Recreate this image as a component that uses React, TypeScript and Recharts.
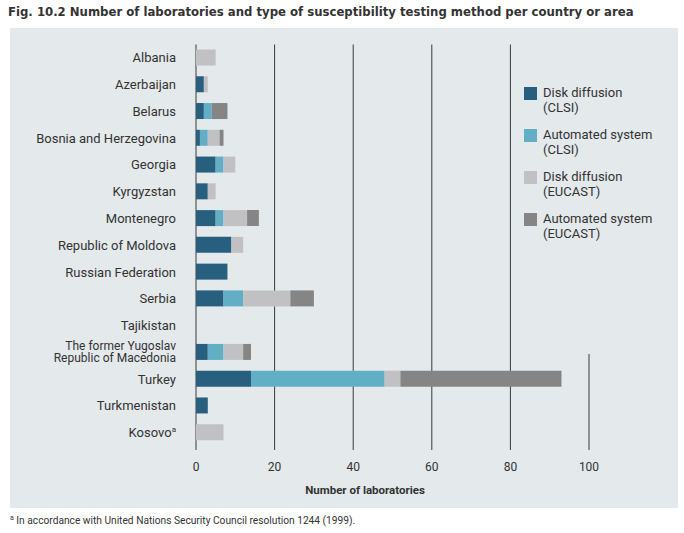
import React from "react";
import { BarChart, Bar, XAxis, YAxis, CartesianGrid } from "recharts";

const categories = [
  "Albania",
  "Azerbaijan",
  "Belarus",
  "Bosnia and Herzegovina",
  "Georgia",
  "Kyrgyzstan",
  "Montenegro",
  "Republic of Moldova",
  "Russian Federation",
  "Serbia",
  "Tajikistan",
  "The former Yugoslav|Republic of Macedonia",
  "Turkey",
  "Turkmenistan",
  "Kosovo^a",
];

const diskCLSI = [0, 2, 2, 1, 5, 3, 5, 9, 8, 7, 0, 3, 14, 3, 0];
const autoCLSI = [0, 0, 2, 2, 2, 0, 2, 0, 0, 5, 0, 4, 34, 0, 0];
const diskEUCAST = [5, 1, 0, 3, 3, 2, 6, 3, 0, 12, 0, 5, 4, 0, 7];
const autoEUCAST = [0, 0, 4, 1, 0, 0, 3, 0, 0, 6, 0, 2, 41, 0, 0];

const xTicks = [0, 20, 40, 60, 80, 100];

const seriesNames = [
  ["Disk diffusion", "(CLSI)"],
  ["Automated system", "(CLSI)"],
  ["Disk diffusion", "(EUCAST)"],
  ["Automated system", "(EUCAST)"],
];
const seriesKeys = ["diskCLSI", "autoCLSI", "diskEUCAST", "autoEUCAST"];
const colors = ["#285e7e", "#62afc5", "#c1c1c3", "#858585"];

const BG = "#e4e9ec";
const TEXT = "#333333";
const FONT = "Roboto, 'Noto Sans', sans-serif";

const data = categories.map((name, i) => ({
  name,
  diskCLSI: diskCLSI[i],
  autoCLSI: autoCLSI[i],
  diskEUCAST: diskEUCAST[i],
  autoEUCAST: autoEUCAST[i],
}));

const CountryTick = (props: any) => {
  const { x, y, payload } = props;
  const v: string = payload.value;
  if (v.includes("|")) {
    const [a, b] = v.split("|");
    return (
      <g>
        <text x={x} y={y} dy={-2.5} textAnchor="end" fill={TEXT} fontSize={12} fontFamily={FONT}>
          {a}
        </text>
        <text x={x} y={y} dy={10} textAnchor="end" fill={TEXT} fontSize={12} fontFamily={FONT}>
          {b}
        </text>
      </g>
    );
  }
  if (v.includes("^")) {
    const [a, b] = v.split("^");
    return (
      <text x={x} y={y} dy={4.5} textAnchor="end" fill={TEXT} fontSize={13} fontFamily={FONT}>
        {a}
        <tspan fontSize={8} dy={-5}>{b}</tspan>
      </text>
    );
  }
  return (
    <text x={x} y={y} dy={4.5} textAnchor="end" fill={TEXT} fontSize={13} fontFamily={FONT}>
      {v}
    </text>
  );
};

export default function App() {
  return (
    <div
      style={{
        position: "absolute",
        left: 0,
        top: 0,
        width: 684,
        height: 533,
        background: "#ffffff",
        fontFamily: FONT,
        overflow: "hidden",
      }}
    >
      <div
        style={{
          position: "absolute",
          left: 8,
          top: 4,
          fontFamily: "'DejaVu Sans Condensed', 'Liberation Sans Narrow', sans-serif",
          fontWeight: 700,
          fontSize: 13,
          color: TEXT,
          whiteSpace: "nowrap",
        }}
      >
        Fig. 10.2 Number of laboratories and type of susceptibility testing method per country or area
      </div>
      <div
        style={{
          position: "absolute",
          left: 10,
          top: 28,
          width: 668,
          height: 480,
          background: BG,
        }}
      />
      <div style={{ position: "absolute", left: 0, top: 0 }}>
        <BarChart
          width={684}
          height={533}
          data={data}
          layout="vertical"
          margin={{ top: 44.5, right: 95, bottom: 53, left: 0 }}
          barSize={16}
        >
          <CartesianGrid
            horizontal={false}
            vertical={true}
            stroke="#3a3a3a"
            strokeWidth={1}
          />
          <XAxis
            type="number"
            domain={[0, 100]}
            ticks={xTicks}
            axisLine={false}
            tickLine={false}
            tickMargin={6}
            height={30}
            tick={{ fill: TEXT, fontSize: 12, fontFamily: FONT }}
            interval={0}
          />
          <YAxis
            type="category"
            dataKey="name"
            width={196}
            axisLine={false}
            tickLine={false}
            tickMargin={14}
            interval={0}
            padding={{ top: 0, bottom: 4 }}
            tick={<CountryTick />}
          />
          {seriesKeys.map((k, i) => (
            <Bar
              key={k}
              dataKey={k}
              stackId="a"
              fill={colors[i]}
              isAnimationActive={false}
            />
          ))}
        </BarChart>
      </div>
      <div
        style={{
          position: "absolute",
          left: 515,
          top: 40,
          width: 163,
          height: 314,
          background: BG,
        }}
      >
        {seriesNames.map((n, i) => (
          <div
            key={i}
            style={{
              position: "absolute",
              left: 9,
              top: 46 + i * 42,
              display: "flex",
              alignItems: "flex-start",
            }}
          >
            <div
              style={{
                width: 13,
                height: 13,
                background: colors[i],
                marginTop: 1,
                marginRight: 6,
              }}
            />
            <div style={{ fontSize: 13, color: TEXT }}>
              <div style={{ lineHeight: "14.5px", height: 14.5 }}>{n[0]}</div>
              <div style={{ lineHeight: "14.5px", height: 14.5 }}>{n[1]}</div>
            </div>
          </div>
        ))}
      </div>
      <div
        style={{
          position: "absolute",
          left: 290,
          top: 483,
          width: 150,
          textAlign: "center",
          fontWeight: 700,
          fontSize: 11.5,
          color: TEXT,
          whiteSpace: "nowrap",
        }}
      >
        Number of laboratories
      </div>
      <div
        style={{
          position: "absolute",
          left: 10,
          top: 514,
          fontSize: 10.2,
          color: TEXT,
          whiteSpace: "nowrap",
        }}
      >
        <span style={{ fontSize: 7, verticalAlign: "super" }}>a</span> In accordance with United Nations Security Council resolution 1244 (1999).
      </div>
    </div>
  );
}
